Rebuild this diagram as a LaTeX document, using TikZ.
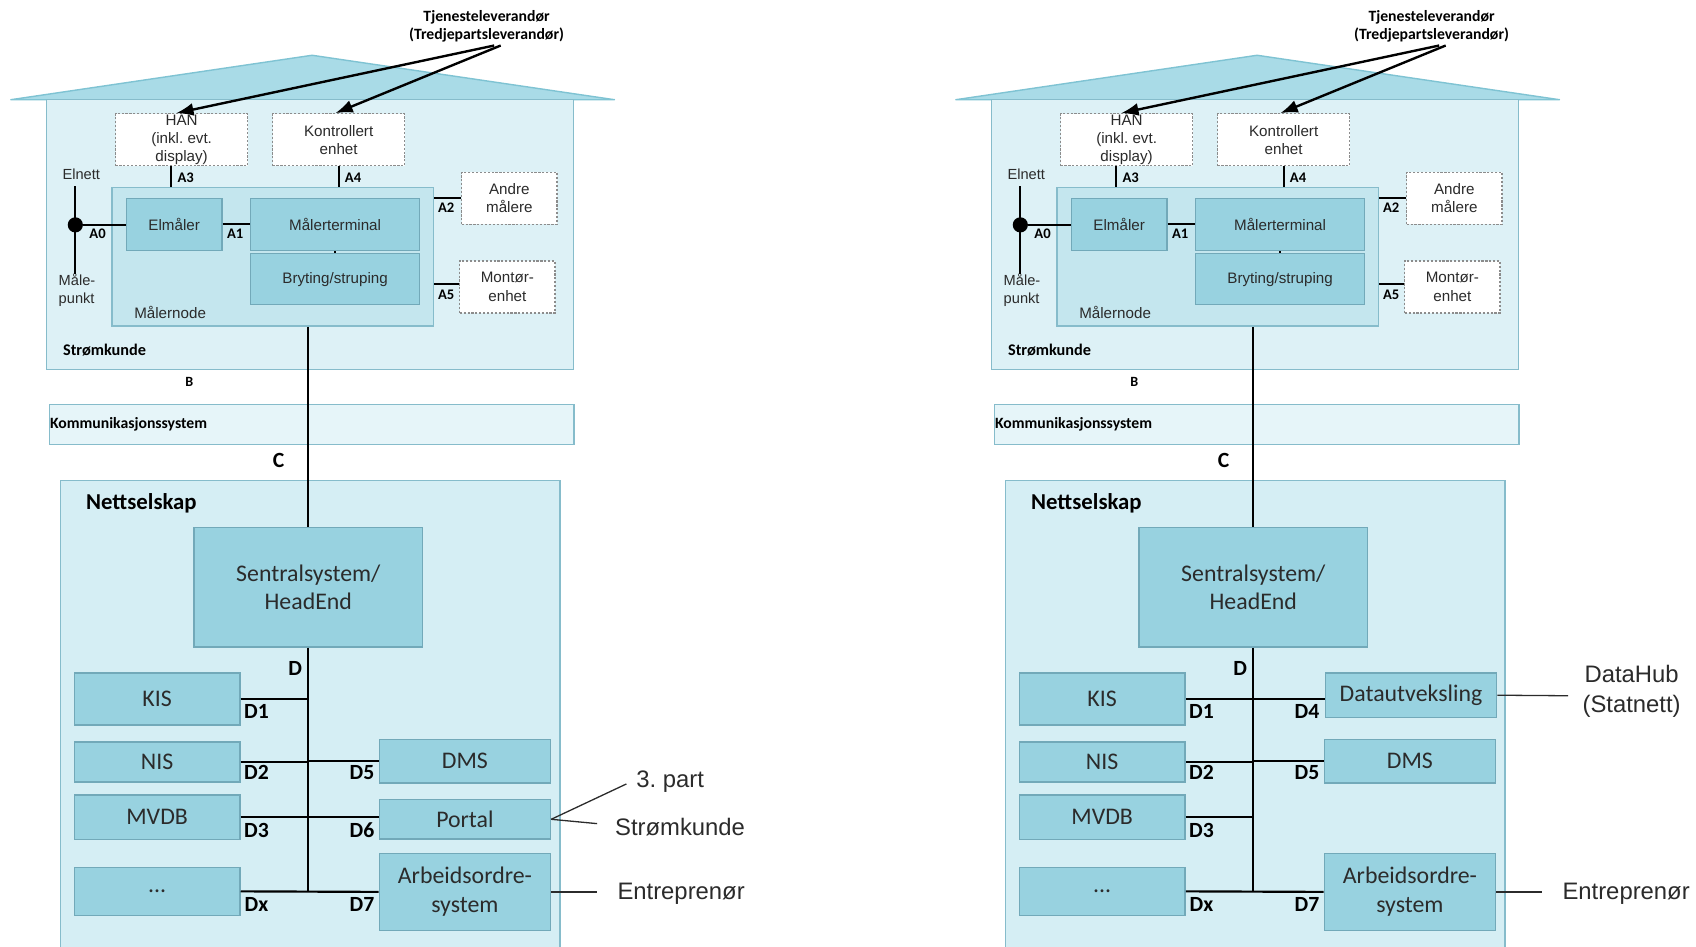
\documentclass[tikz,border=0pt]{standalone}
\usepackage{fontspec}
\setmainfont{Liberation Sans}
\newfontfamily\calib{Carlito}
\usetikzlibrary{arrows.meta}
\frenchspacing
\definecolor{houseC}{HTML}{DDF1F6}
\definecolor{roofC}{HTML}{A9DBE7}
\definecolor{roofE}{HTML}{7FC3D3}
\definecolor{edgeC}{HTML}{86BCCB}
\definecolor{boxE}{HTML}{72A9B9}
\definecolor{nodeC}{HTML}{C4E6EE}
\definecolor{boxC}{HTML}{98D2E0}
\definecolor{netC}{HTML}{D5EEF4}
\definecolor{komC}{HTML}{E6F5F9}
\definecolor{txtC}{HTML}{2B2B2B}
\definecolor{dashC}{HTML}{8C8C8C}
\tikzset{
 area/.style={draw=edgeC, line width=1.3pt, inner sep=0pt},
 sysbox/.style={draw=boxE, fill=boxC, line width=1.3pt, inner sep=0pt, align=center},
 optbox/.style={draw=dashC, fill=white, dash pattern=on 2pt off 1.6pt, line width=1.2pt, inner sep=0pt, align=center},
 wire/.style={draw=black, line width=2pt},
 thinwire/.style={draw=txtC, line width=1.2pt},
 ar/.style={font=\fontsize{14}{17}\selectfont, text=txtC, align=center},
 ar13/.style={font=\fontsize{13.5}{16.5}\selectfont, text=txtC},
 big/.style={font=\calib\fontsize{22}{26.5}\selectfont, text=txtC, align=center},
 ext/.style={font=\fontsize{22}{28}\selectfont, text=txtC, align=center},
 alab/.style={font=\calib\bfseries\fontsize{13.5}{15}\selectfont, inner sep=0pt},
 dlab/.style={font=\calib\bfseries\fontsize{20}{22}\selectfont, inner sep=0pt},
 ttl/.style={font=\calib\bfseries\fontsize{14.5}{17}\selectfont, align=center},
 bigarrow/.style={line width=2.2pt, -{Latex[length=16pt,width=12pt]}},
}
\newcommand\panel[1]{%
 % roof and house
 \draw[roofE, fill=roofC, line width=1.3pt, line join=round] (10,92) -- (288,51) -- (567,92) -- cycle;
 \node[area, fill=houseC, minimum width=486pt, minimum height=249pt] (#1house) at (286,216.5) {};
 \node[ttl] (#1tj) at (449,24.3) {Tjenesteleverandør\\(Tredjepartsleverandør)};
 \node[optbox, ar, minimum width=122pt, minimum height=48pt] (#1han) at (167.6,129) {HAN\\(inkl. evt.\\display)};
 \node[optbox, ar, minimum width=122pt, minimum height=48pt] (#1ko) at (312.5,129) {Kontrollert\\enhet};
 \node[area, fill=nodeC, minimum width=297pt, minimum height=128pt] (#1mn) at (251.7,237) {};
 \node[sysbox, ar, minimum width=88pt, minimum height=48pt] (#1elm) at (160.7,207) {Elmåler};
 \node[sysbox, ar, minimum width=156pt, minimum height=48pt] (#1mt) at (309.2,207) {Målerterminal};
 \node[sysbox, ar, minimum width=156pt, minimum height=47pt] (#1br) at (309.2,257.6) {Bryting/struping};
 \node[optbox, ar, minimum width=88pt, minimum height=48pt] (#1an) at (470,183) {Andre\\målere};
 \node[optbox, ar, minimum width=88pt, minimum height=48pt] (#1mo) at (468.2,264.7) {Montør-\\enhet};
 \node[circle, fill=black, minimum size=14pt, inner sep=0pt] (#1dot) at (69.5,207.5) {};
 \coordinate (#1elT) at (69.5,172);
 \coordinate (#1elB) at (69.5,253);
 \node[ar13] (#1elnett) at (75,160.7) {Elnett};
 \node[ar13, align=left, anchor=west, inner sep=0pt] (#1mp) at (54,267.5) {Måle-\\punkt};
 \node[ar] (#1mnl) at (157,288.6) {Målernode};
 \node[font=\calib\bfseries\fontsize{15}{17}\selectfont] (#1sk) at (96.5,323) {Strømkunde};
 \draw[line width=2pt] (#1elT) -- (#1elB);
 \draw[wire] (#1dot) -- (#1dot -| #1elm.west);
 \draw[wire] (#1elm.east) -- (#1elm.east -| #1mt.west);
 \draw[wire] ([xshift=-10pt]#1han.south) -- ([xshift=-10pt]#1han.south |- #1mn.north);
 \draw[wire] (#1ko.south) -- (#1ko.south |- #1mn.north);
 \draw[wire] (#1an.west) -- (#1an.west -| #1mn.east);
 \draw[wire] ([yshift=2.5pt]#1mo.west) -- ([yshift=2.5pt]#1mo.west -| #1mn.east);
 \draw[wire] (#1mt.south) -- (#1br.north);
 \node[alab] at (171.3,163.8) {A3};
 \node[alab] at (325.8,163.8) {A4};
 \node[alab] at (90,215.6) {A0};
 \node[alab] at (217,215.6) {A1};
 \node[alab] at (411.7,192) {A2};
 \node[alab] at (411.7,271.7) {A5};
 \coordinate (#1s1) at (456,42);
 \coordinate (#1s2) at (462,42);
 \draw[bigarrow] (#1s1) -- ([xshift=-5pt]#1han.north);
 \draw[bigarrow] (#1s2) -- ([xshift=-3pt]#1ko.north);
 % communication
 \node[font=\calib\bfseries\fontsize{13}{15}\selectfont] (#1B) at (174.6,352) {B};
 \node[area, fill=komC, minimum width=484pt, minimum height=37pt] (#1kom) at (287.5,391.7) {};
 \node[font=\calib\bfseries\fontsize{14.5}{16}\selectfont, anchor=west, inner sep=0pt] (#1koml) at (46,391.5) {Kommunikasjonssystem};
 \node[dlab] (#1C) at (257,425) {C};
 % grid company
 \node[area, fill=netC, minimum width=461pt, minimum height=450pt, anchor=north west] (#1net) at (55,443) {};
 \node[font=\calib\bfseries\fontsize{21}{24}\selectfont] (#1netl) at (130.5,464) {Nettselskap};
 \node[sysbox, big, minimum width=211pt, minimum height=110pt] (#1se) at (284.5,542) {Sentralsystem/\\HeadEnd};
 \node[sysbox, big, minimum width=153pt, minimum height=48pt] (#1kis) at (145,645) {KIS};
 \node[sysbox, big, minimum width=153pt, minimum height=37pt] (#1nis) at (145,703) {NIS};
 \node[sysbox, big, minimum width=153pt, minimum height=41pt] (#1mvdb) at (145,754.2) {MVDB};
 \node[sysbox, big, minimum width=153pt, minimum height=44pt] (#1dots) at (145,822.5) {...};
 \node[sysbox, big, minimum width=158pt, minimum height=40pt] (#1dms) at (429,702.5) {DMS};
 \node[sysbox, big, minimum width=158pt, minimum height=71pt] (#1ao) at (429,823) {Arbeidsordre-\\system};
 \draw[wire] (#1mn.south -| #1se.north) -- (#1se.north);
 \coordinate (#1bot) at (#1se.south |- #1dots.east);
 \draw[wire] (#1se.south) -- (#1bot);
 \draw[wire] (#1kis.east) -- (#1kis.east -| #1se.south);
 \draw[wire] (#1nis.east) -- (#1nis.east -| #1se.south);
 \draw[wire] (#1dms.west) -- (#1dms.west -| #1se.south);
 \draw[wire] (#1mvdb.east) -- (#1mvdb.east -| #1se.south);
 \draw[wire] (#1dots.east) -- (#1ao.west);
 \node[dlab] at (272.4,616.8) {D};
 \node[dlab] at (236.7,656.8) {D1};
 \node[dlab] at (236.7,713) {D2};
 \node[dlab] at (236.7,766) {D3};
 \node[dlab] at (236.7,834.5) {Dx};
 \node[dlab] at (334,713) {D5};
 \node[dlab] at (334,834.5) {D7};
 \coordinate (#1ent) at (550.5,823);
 \draw[thinwire] (#1ao.east) -- (#1ent);
 \node[ext] (#1entl) at (628.5,825) {Entreprenør};
}
\begin{document}
\begin{tikzpicture}[x=1pt,y=-1pt]
\useasboundingbox (0,0) rectangle (1565,873);
\panel{L}
\node[sysbox, big, minimum width=158pt, minimum height=36pt] (Lportal) at (429,756) {Portal};
\draw[wire] (Lmvdb.east -| Lse.south) -- (Lmvdb.east -| Lportal.west);
\node[dlab] at (334,766) {D6};
\coordinate (Lp3) at (578,723.4);
\coordinate (Lps) at (551,760);
\draw[thinwire] (Lportal.east) -- (Lp3);
\draw[thinwire] (Lportal.east) -- (Lps);
\node[ext] (L3p) at (618.5,721) {3.\ part};
\node[ext] (Lskl) at (627.5,763) {Strømkunde};
\begin{scope}[xshift=872pt]
\panel{R}
\node[sysbox, big, minimum width=158pt, minimum height=41pt] (Rdat) at (430,641.5) {Datautveksling};
\draw[wire] (Rkis.east -| Rse.south) -- (Rkis.east -| Rdat.west);
\node[dlab] at (334,656.8) {D4};
\coordinate (Rdh) at (575,642);
\draw[thinwire] (Rdat.east) -- (Rdh);
\node[ext] (Rdhl) at (633.6,638) {DataHub\\(Statnett)};
\end{scope}
\end{tikzpicture}
\end{document}
